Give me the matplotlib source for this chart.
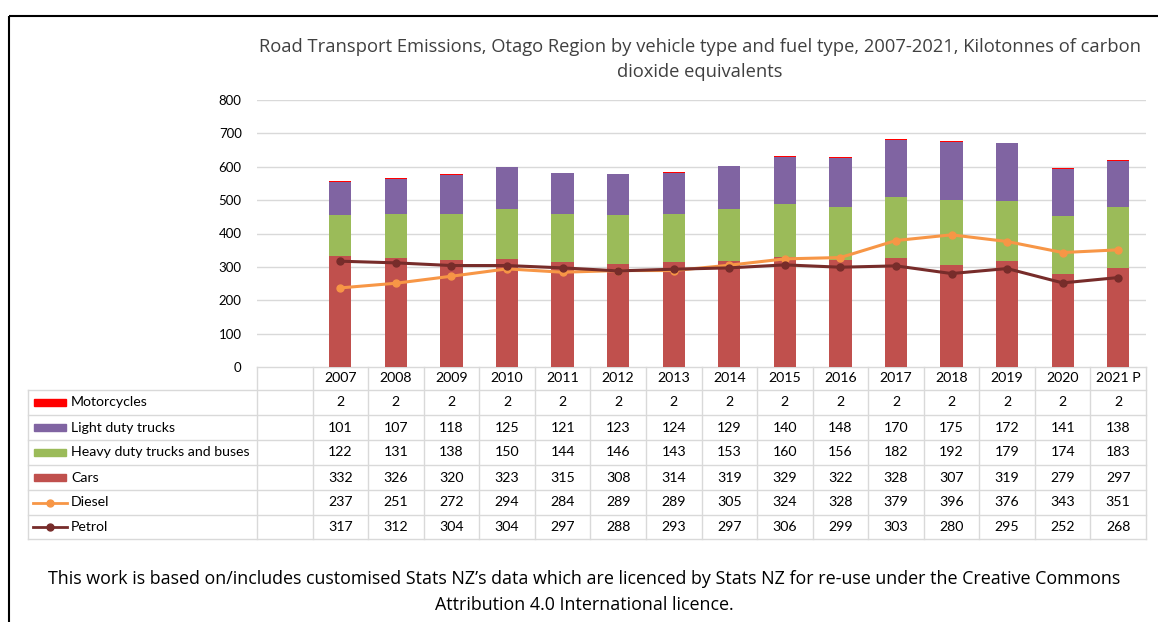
import matplotlib
matplotlib.use("Agg")
import matplotlib.pyplot as plt
import matplotlib.transforms as mtransforms
from matplotlib.patches import Rectangle
from matplotlib.lines import Line2D

years = ["2007", "2008", "2009", "2010", "2011", "2012", "2013", "2014",
         "2015", "2016", "2017", "2018", "2019", "2020", "2021 P"]
motorcycles = [2, 2, 2, 2, 2, 2, 2, 2, 2, 2, 2, 2, 2, 2, 2]
light_duty = [101, 107, 118, 125, 121, 123, 124, 129, 140, 148, 170, 175, 172, 141, 138]
heavy_duty = [122, 131, 138, 150, 144, 146, 143, 153, 160, 156, 182, 192, 179, 174, 183]
cars = [332, 326, 320, 323, 315, 308, 314, 319, 329, 322, 328, 307, 319, 279, 297]
diesel = [237, 251, 272, 294, 284, 289, 289, 305, 324, 328, 379, 396, 376, 343, 351]
petrol = [317, 312, 304, 304, 297, 288, 293, 297, 306, 299, 303, 280, 295, 252, 268]

C_MOTO = "#ff0000"
C_LIGHT = "#8064a2"
C_HEAVY = "#9bbb59"
C_CARS = "#c0504d"
C_DIESEL = "#f79646"
C_PETROL = "#772c2a"
GRID = "#d9d9d9"
TXT = "#404040"

FONT = "Lato"
plt.rcParams['font.family'] = [FONT, 'DejaVu Sans']
TFS = 10.2  # table font size
OPEN = ["Open Sans", "DejaVu Sans"]

W, H = 1158, 622
fig = plt.figure(figsize=(W / 100, H / 100), dpi=100)

# overlay axes in pixel coordinates
ov = fig.add_axes([0, 0, 1, 1])
ov.set_xlim(0, W)
ov.set_ylim(H, 0)
ov.axis('off')

# main chart axes
x0, x1, ytop, ybot = 257, 1146, 100, 367
ax = fig.add_axes([x0 / W, (H - ybot) / H, (x1 - x0) / W, (ybot - ytop) / H])
ax.set_xlim(-1.5, 14.5)
ax.set_ylim(0, 800)
for s in ax.spines.values():
    s.set_visible(False)
ax.set_yticks(range(0, 801, 100))
ax.tick_params(axis='y', length=0, labelsize=9.5, labelcolor="#000000", pad=11)
ax.set_xticks([])
ax.grid(axis='y', color=GRID, linewidth=1)
ax.set_axisbelow(True)

idx = list(range(len(years)))
bw = 0.4
b1 = [c for c in cars]
b2 = [c + h for c, h in zip(cars, heavy_duty)]
b3 = [c + h + l for c, h, l in zip(cars, heavy_duty, light_duty)]
ax.bar(idx, cars, bw, color=C_CARS, zorder=2)
ax.bar(idx, heavy_duty, bw, bottom=b1, color=C_HEAVY, zorder=2)
ax.bar(idx, light_duty, bw, bottom=b2, color=C_LIGHT, zorder=2)
ax.bar(idx, motorcycles, bw, bottom=b3, color=C_MOTO, zorder=2)
ax.plot(idx, diesel, color=C_DIESEL, lw=2.2, marker='o', ms=5, zorder=3)
ax.plot(idx, petrol, color=C_PETROL, lw=2.2, marker='o', ms=5, zorder=4)

# frame border
ov.add_patch(Rectangle((9, 16), W, H, fill=False, edgecolor="black", lw=1.5))

# title
ov.text(700, 47, "Road Transport Emissions, Otago Region by vehicle type and fuel type, 2007-2021, Kilotonnes of carbon",
        ha='center', va='center', fontsize=13.2, color=TXT, family=OPEN)
ov.text(700, 72, "dioxide equivalents", ha='center', va='center', fontsize=13.2, color=TXT, family=OPEN)

# data table
bt = mtransforms.blended_transform_factory(ax.transData, ov.transData)
row_edges = [367, 390, 415, 440, 465, 490, 515, 539]
ov.plot([257, 1146], [367, 367], color=GRID, lw=1)
for y in row_edges[1:]:
    ov.plot([28, 1146], [y, y], color=GRID, lw=1)
ov.plot([28, 28], [390, 539], color=GRID, lw=1)
for i in range(len(years) + 2):
    xd = i - 1.5
    ax.plot([xd, xd], [367, 539], color=GRID, lw=1, transform=bt, clip_on=False)

for i, yr in enumerate(years):
    ov.text(i, 378.5, yr, transform=bt, ha='center', va='center', fontsize=TFS, color="#000000")

rows = [
    ("Motorcycles", motorcycles, C_MOTO, 'bar'),
    ("Light duty trucks", light_duty, C_LIGHT, 'bar'),
    ("Heavy duty trucks and buses", heavy_duty, C_HEAVY, 'bar'),
    ("Cars", cars, C_CARS, 'bar'),
    ("Diesel", diesel, C_DIESEL, 'line'),
    ("Petrol", petrol, C_PETROL, 'line'),
]
for r, (name, vals, col, kind) in enumerate(rows):
    yc = (row_edges[r + 1] + row_edges[r + 2]) / 2
    if kind == 'bar':
        ov.add_patch(Rectangle((34, yc - 3.5), 32, 7, color=col))
    else:
        ov.add_line(Line2D([33, 67], [yc, yc], color=col, lw=2))
        ov.plot([50], [yc], marker='o', ms=5, color=col)
    ov.text(71, yc, name, ha='left', va='center', fontsize=TFS, color="#000000")
    for i, v in enumerate(vals):
        ov.text(i, yc, str(v), transform=bt, ha='center', va='center', fontsize=TFS, color="#000000")

# footer
ov.text(584, 579, "This work is based on/includes customised Stats NZ\u2019s data which are licenced by Stats NZ for re-use under the Creative Commons",
        ha='center', va='center', fontsize=12.9, color="#000000", family=OPEN)
ov.text(584, 605, "Attribution 4.0 International licence.", ha='center', va='center', fontsize=12.9,
        color="#000000", family=OPEN)

fig.savefig("out.png", dpi=100)
